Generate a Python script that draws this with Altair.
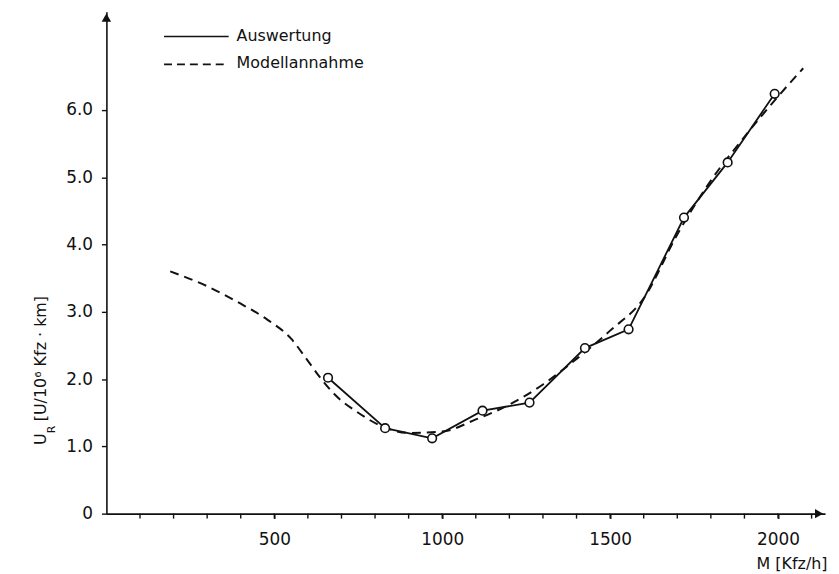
import altair as alt
import pandas as pd

# Auswertung (evaluated points)
aus_x = [660, 830, 970, 1120, 1260, 1425, 1555, 1720, 1850, 1990]
aus_y = [2.02, 1.27, 1.12, 1.53, 1.65, 2.46, 2.74, 4.40, 5.22, 6.24]

# Modellannahme (model curve)
mod_x = [190, 300, 400, 480, 550, 600, 640, 680, 750, 820, 900, 1000, 1100,
         1200, 1300, 1400, 1500, 1600, 1700, 1800, 1900, 2000, 2075]
mod_y = [3.60, 3.38, 3.12, 2.88, 2.60, 2.27, 2.00, 1.77, 1.50, 1.30, 1.20, 1.22,
         1.40, 1.62, 1.92, 2.30, 2.72, 3.20, 4.15, 4.95, 5.60, 6.20, 6.62]

legend_labels = ["Auswertung", "Modellannahme"]
y_title_parts = ["U", "R", "[U/10⁶ Kfz · km]"]
x_title = "M [Kfz/h]"
y_ticks = [0, 1, 2, 3, 4, 5, 6]
x_labels = [500, 1000, 1500, 2000]
x_minor = list(range(100, 2200, 100))

W, H = 723, 505
FONT = "DejaVu Sans"
INK = "#111111"

aus = pd.DataFrame({"M": aus_x, "U": aus_y})
mod = pd.DataFrame({"M": mod_x, "U": mod_y})

xscale = alt.Scale(domain=[0, 2140], nice=False, zero=False)
yscale = alt.Scale(domain=[0, 7.46], nice=False, zero=False)

x_axis = alt.Axis(
    values=x_labels, format="d",
    labelOverlap=False, labelFlush=False, labelBound=False,
    title=x_title, titleX=W + 2, titleY=50, titleAlign="right",
    titleBaseline="middle", titleAnchor="end",
    grid=False, tickSize=5, labelPadding=13,
)
y_axis = alt.Axis(
    values=y_ticks,
    labelExpr="datum.value == 0 ? '0' : format(datum.value, '.1f')",
    labelOverlap=False,
    title=None,
    grid=False, tickSize=5, labelPadding=9,
)

dashed = alt.Chart(mod).mark_line(
    color=INK, strokeWidth=2, strokeDash=[9, 6], interpolate="monotone"
).encode(
    x=alt.X("M:Q", scale=xscale, axis=x_axis),
    y=alt.Y("U:Q", scale=yscale, axis=y_axis),
)

solid = alt.Chart(aus).mark_line(color=INK, strokeWidth=1.8).encode(
    x=alt.X("M:Q", scale=xscale),
    y=alt.Y("U:Q", scale=yscale),
)

points = alt.Chart(aus).mark_point(
    shape="circle", size=75, filled=True, fill="white", stroke=INK,
    strokeWidth=1.6, opacity=1
).encode(
    x=alt.X("M:Q", scale=xscale),
    y=alt.Y("U:Q", scale=yscale),
)

minor = alt.Chart(pd.DataFrame({"M": x_minor})).mark_rule(
    color=INK, strokeWidth=1.4
).encode(
    x=alt.X("M:Q", scale=xscale),
    y=alt.value(H), y2=alt.value(H + 5),
)

one = pd.DataFrame({"k": [0]})
leg_solid = alt.Chart(one).mark_rule(color=INK, strokeWidth=1.6).encode(
    x=alt.value(58), x2=alt.value(123), y=alt.value(25)
)
leg_dash = alt.Chart(one).mark_rule(color=INK, strokeWidth=1.8, strokeDash=[8, 5]).encode(
    x=alt.value(58), x2=alt.value(123), y=alt.value(53)
)


def label(txt, x, y, size=16, angle=0):
    return alt.Chart(pd.DataFrame({"t": [txt]})).mark_text(
        align="left", baseline="middle", font=FONT, fontSize=size, color=INK,
        angle=angle
    ).encode(text="t:N", x=alt.value(x), y=alt.value(y))


leg_t1 = label(legend_labels[0], 131, 24)
leg_t2 = label(legend_labels[1], 131, 52)

yt_u = label(y_title_parts[0], -66, 436, size=16, angle=270)
yt_r = label(y_title_parts[1], -55, 424, size=11, angle=270)
yt_rest = label(y_title_parts[2], -66, 412, size=16, angle=270)

arrow_up = alt.Chart(one).mark_point(
    shape="triangle-up", filled=True, color=INK, size=90, opacity=1
).encode(x=alt.value(0), y=alt.value(6))
arrow_right = alt.Chart(one).mark_point(
    shape="triangle-right", filled=True, color=INK, size=90, opacity=1
).encode(x=alt.value(W - 6), y=alt.value(H))

chart = alt.layer(
    dashed, solid, points, minor, leg_solid, leg_dash, leg_t1, leg_t2,
    yt_u, yt_r, yt_rest, arrow_up, arrow_right
).properties(
    width=W, height=H,
    padding={"left": 99, "top": 2, "right": 6, "bottom": 58},
    autosize=alt.AutoSizeParams(type="none"),
    background="white",
).configure_view(stroke=None).configure_axis(
    domainColor=INK, domainWidth=1.6, tickColor=INK, tickWidth=1.4,
    labelColor=INK, titleColor=INK, labelFont=FONT, titleFont=FONT,
    labelFontSize=17, titleFontSize=16, titleFontWeight="normal",
)

chart.save("out.html", embed_options={"renderer": "svg", "actions": False})
